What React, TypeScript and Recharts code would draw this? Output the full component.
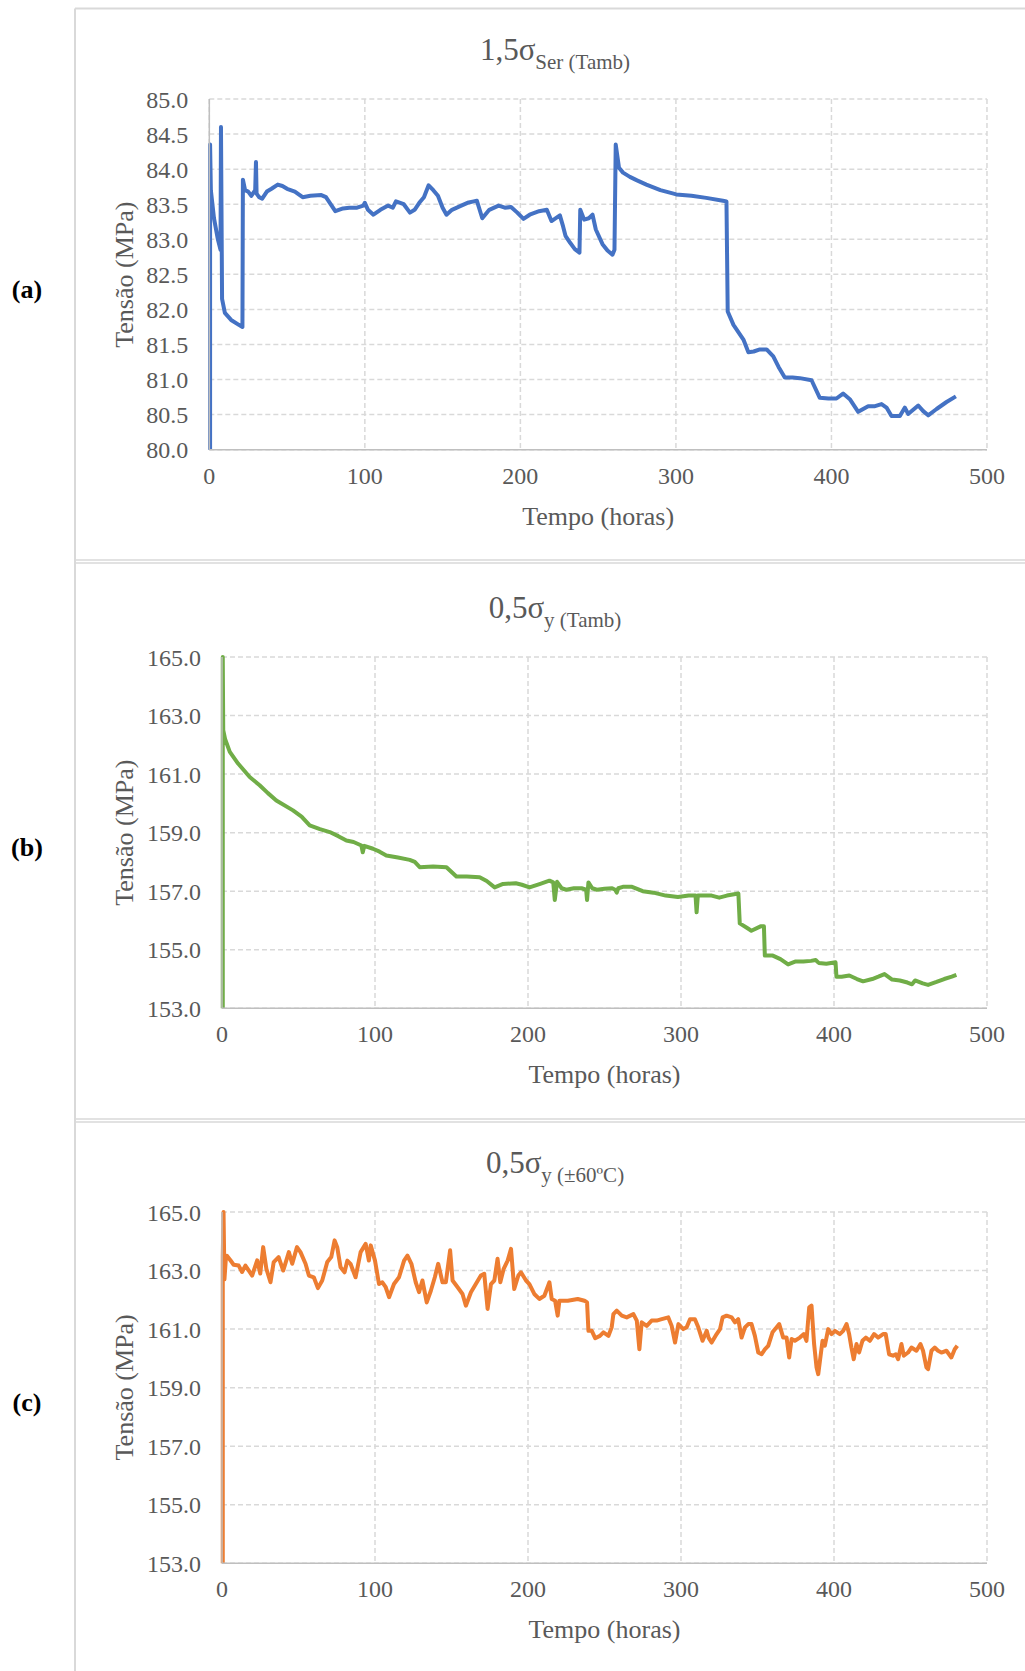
import React from 'react';
import { LineChart, Line, XAxis, YAxis, CartesianGrid } from 'recharts';

// [hours, MPa]
const serieA: [number, number][] = [
  [0.5, 80.0], [0.5, 84.35], [1, 83.7], [3, 83.3], [5.5, 83.0], [7.2, 82.85], [7.5, 84.6], [8.2, 82.15],
  [10, 81.95], [14, 81.85], [19, 81.78], [21.3, 81.75], [21.6, 83.85], [23, 83.7], [25, 83.68],
  [27, 83.62], [29.5, 83.7], [30, 84.1], [30.4, 83.65], [32, 83.6], [34, 83.58], [37, 83.68],
  [40, 83.72], [44, 83.78], [47, 83.76], [50, 83.72], [55, 83.68], [60, 83.6], [65, 83.62],
  [72, 83.63], [75, 83.6], [78, 83.5], [81, 83.4], [86, 83.44], [90, 83.45], [95, 83.45],
  [99, 83.48], [100, 83.52], [102, 83.42], [105.5, 83.35], [110, 83.42], [115, 83.48],
  [118, 83.45], [120, 83.54], [125, 83.5], [129, 83.38], [132, 83.42], [135, 83.52], [138, 83.6],
  [141, 83.77], [144, 83.7], [147, 83.62], [150, 83.45], [152.5, 83.35], [156, 83.42],
  [162, 83.48], [166, 83.52], [170, 83.54], [172, 83.55], [175.5, 83.3], [180, 83.42],
  [186, 83.48], [190, 83.45], [194, 83.46], [198, 83.38], [202, 83.29], [206, 83.35],
  [212, 83.4], [217, 83.42], [220, 83.26], [225.4, 83.34], [227.5, 83.18], [229, 83.05],
  [232, 82.95], [235, 82.86], [238, 82.81], [238.5, 83.42], [241, 83.28], [244, 83.3],
  [246.4, 83.35], [248.5, 83.14], [252.8, 82.93], [256, 82.84], [259.2, 82.78], [260.5, 82.85],
  [261.3, 84.35], [263.4, 84.02], [266, 83.95], [270.4, 83.89], [275, 83.84], [281, 83.78],
  [290, 83.7], [300.3, 83.64], [310, 83.62], [319.5, 83.59], [330.2, 83.55], [332.5, 83.54],
  [333.3, 81.97], [337, 81.78], [343.4, 81.57], [346.6, 81.39], [350, 81.4], [354, 81.43],
  [358.3, 81.43], [362.6, 81.33], [366, 81.18], [370, 81.03], [375, 81.03], [379.7, 81.02],
  [387.2, 80.99], [392.5, 80.74], [398, 80.73], [403.2, 80.73], [407.5, 80.8], [411.8, 80.72],
  [417.2, 80.54], [423.6, 80.62], [428, 80.62], [432.2, 80.65], [435.4, 80.6], [438.6, 80.48],
  [444, 80.48], [447.2, 80.6], [449.3, 80.51], [455.8, 80.63], [459, 80.55], [462.2, 80.49],
  [467.6, 80.58], [474, 80.68], [480, 80.76],
];

const serieB: [number, number][] = [
  [0.5, 153.0], [0.5, 165.0], [0.8, 162.5], [2, 162.2], [5.1, 161.76], [10.5, 161.36], [18.1, 160.9],
  [24.6, 160.62], [30, 160.35], [35.5, 160.1], [46.4, 159.76], [52, 159.55], [57.3, 159.25],
  [64, 159.12], [70.4, 159.02], [76, 158.88], [81.3, 158.73], [86, 158.68], [91.1, 158.56],
  [92, 158.33], [93, 158.55], [98.7, 158.45], [103, 158.35], [107.4, 158.22], [115, 158.15],
  [122.7, 158.07], [126, 158.0], [129.2, 157.82], [138, 157.84], [146.7, 157.82],
  [153.2, 157.5], [160, 157.5], [168.4, 157.48], [173, 157.35], [178.2, 157.13],
  [183.7, 157.25], [192, 157.27], [196, 157.22], [201, 157.13], [208, 157.25], [214, 157.36],
  [216.5, 157.3], [217.5, 156.7], [219, 157.32], [222, 157.1], [225, 157.05], [230, 157.1],
  [235, 157.1], [238, 157.05], [238.6, 156.7], [239.5, 157.3], [242, 157.1], [245, 157.05],
  [250, 157.08], [255, 157.1], [257, 157.05], [258, 156.95], [259, 157.1], [262, 157.15],
  [268, 157.15], [275, 157.0], [282, 156.95], [290, 156.85], [298, 156.8], [305, 156.85],
  [309.5, 156.85], [310.2, 156.28], [311, 156.85], [316, 156.85], [320, 156.85],
  [325, 156.78], [330, 156.85], [337.5, 156.92], [338.4, 155.9], [343, 155.75], [346, 155.65],
  [352, 155.8], [354.2, 155.8], [354.8, 154.8], [360, 154.8], [365, 154.68], [370, 154.5],
  [375, 154.6], [380, 154.6], [385, 154.62], [388, 154.65], [390, 154.55], [395, 154.52],
  [401, 154.57], [401.6, 154.08], [405, 154.08], [410, 154.12], [415, 154.0], [419, 153.92],
  [425, 154.0], [429, 154.08], [433, 154.17], [438, 153.98], [443, 153.95], [448, 153.88],
  [451, 153.82], [453, 153.95], [458, 153.85], [461.5, 153.8], [467, 153.9], [472, 154.0],
  [477, 154.08], [480, 154.14],
];

const serieC: [number, number][] = [
  [0.5, 153.0], [0.5, 163.5], [1, 165.0], [1.6, 162.7], [2.5, 163.4], [3.3, 163.5], [5.5, 163.35],
  [7.6, 163.2], [10.9, 163.17], [13.1, 162.95], [15.3, 163.17], [19.7, 162.83], [23, 163.35],
  [25, 162.9], [26.9, 163.8], [29, 163.06], [31.7, 162.6], [33.8, 163.29], [37, 163.46],
  [40, 163.0], [43.7, 163.63], [45.9, 163.23], [49, 163.8], [51.3, 163.63], [54.6, 163.23],
  [56.8, 162.83], [60, 162.77], [62.7, 162.4], [65.5, 162.66], [68.8, 163.29], [71.4, 163.46],
  [73.6, 164.03], [75.3, 163.8], [77.5, 163.11], [80.1, 162.94], [81.9, 163.34], [84, 163.23],
  [87.3, 162.77], [90.6, 163.63], [93.9, 163.91], [96, 163.34], [97.2, 163.86], [100, 163.34],
  [102.6, 162.54], [104.8, 162.6], [107, 162.43], [109.2, 162.09], [112.4, 162.54],
  [115.7, 162.77], [119, 163.34], [121.2, 163.51], [123.8, 163.23], [126.6, 162.6],
  [128.8, 162.26], [131, 162.66], [133.8, 161.91], [136.5, 162.31], [139.1, 162.77],
  [141.3, 163.23], [144.1, 162.6], [146.3, 162.6], [149.1, 163.69], [150.7, 162.66],
  [154, 162.43], [157.2, 162.2], [159.4, 161.8], [162.7, 162.26], [165.9, 162.54],
  [169.2, 162.83], [171.4, 162.89], [173.6, 161.69], [175.8, 162.54], [178, 162.66],
  [180.1, 163.4], [181.9, 162.6], [184.1, 163.06], [186.7, 163.34], [188.9, 163.74],
  [191, 162.37], [193.7, 162.83], [195.4, 162.94], [198.7, 162.66], [200.9, 162.54],
  [204.1, 162.2], [207.4, 162.03], [210.7, 162.14], [214, 162.6], [215.5, 162.03],
  [217.7, 161.97], [219.4, 161.46], [220.5, 161.97], [226, 161.97], [232.5, 162.03],
  [236.9, 161.97], [238.6, 161.91], [239.5, 160.94], [241.7, 160.94], [243.9, 160.69],
  [247, 160.77], [249.3, 160.89], [252.6, 160.77], [254.7, 161.06], [255.8, 161.51],
  [258, 161.63], [261.3, 161.46], [264.5, 161.4], [268.9, 161.51], [271.1, 161.29],
  [272.8, 160.31], [274.3, 161.23], [277.6, 161.11], [280.8, 161.29], [284.1, 161.29],
  [287.4, 161.34], [291.7, 161.4], [293.9, 161.11], [296.1, 160.54], [298.3, 161.17],
  [301.5, 161.0], [303.7, 161.06], [305.9, 161.34], [309.1, 161.34], [311.3, 161.06],
  [314.1, 160.6], [316.8, 160.94], [318, 160.71], [320, 160.54], [323.3, 160.83],
  [325.5, 161.0], [327.2, 161.4], [329.8, 161.46], [333.1, 161.4], [335.3, 161.23],
  [337.4, 161.34], [339.6, 160.71], [341.8, 161.06], [344, 161.17], [346.1, 161.17],
  [348.3, 160.77], [350.5, 160.2], [352.7, 160.14], [354.8, 160.31], [357, 160.43],
  [359.8, 160.89], [362.5, 161.06], [364.2, 161.17], [366.8, 160.71], [369, 160.71],
  [370.7, 160.03], [372.3, 160.66], [374.4, 160.6], [377.7, 160.71], [380.3, 160.83],
  [382, 160.6], [383.8, 161.74], [385.3, 161.8], [387, 160.49], [388.6, 159.69],
  [389.7, 159.46], [390.8, 159.91], [392.5, 160.6], [394, 160.43], [396.2, 161.0],
  [398.4, 160.83], [400.6, 160.94], [403.8, 160.83], [406, 160.94], [408.2, 161.17],
  [409.9, 160.83], [411.4, 160.37], [412.9, 159.97], [414.7, 160.49], [416.4, 160.2],
  [418.6, 160.6], [420.8, 160.71], [423.4, 160.6], [426.2, 160.83], [428.8, 160.71],
  [432.1, 160.83], [433.8, 160.83], [436, 160.14], [438.6, 160.09], [440.4, 160.14],
  [441.9, 159.97], [444.1, 160.49], [445.6, 160.09], [448.4, 160.2], [450.6, 160.37],
  [453.9, 160.26], [456.5, 160.49], [458.2, 160.26], [460.4, 159.69], [461.5, 159.63],
  [463.7, 160.26], [465.8, 160.37], [468, 160.26], [470.2, 160.2], [473.5, 160.26],
  [476.7, 160.03], [478.9, 160.31], [480.6, 160.43],
];

const xTicks = [0, 100, 200, 300, 400, 500];
const yTicksA = [80, 80.5, 81, 81.5, 82, 82.5, 83, 83.5, 84, 84.5, 85];
const yTicksBC = [153, 155, 157, 159, 161, 163, 165];

const FONT = "'Liberation Serif', 'Times New Roman', serif";
const GREY = '#595959';
const PAGE_W = 1025;
const PLOT_R = 987;

interface PanelProps {
  serie: [number, number][];
  color: string;
  yTicks: number[];
  left: number;
  top: number;
  bottom: number;
}

const Panel = ({ serie, color, yTicks, left, top, bottom }: PanelProps) => {
  const data = serie.map(([t, v]) => ({ t, v }));
  const h = bottom - top + 80;
  return (
    <div style={{ position: 'absolute', left: 0, top: top - 20, width: PAGE_W, height: h }}>
      <LineChart
        width={PAGE_W}
        height={h}
        data={data}
        margin={{ top: 20, right: PAGE_W - PLOT_R, bottom: 20, left: left - 100 }}
      >
        <CartesianGrid stroke="#d9d9d9" strokeDasharray="5 3" strokeWidth={1.5} />
        <XAxis
          dataKey="t"
          type="number"
          domain={[0, 500]}
          ticks={xTicks}
          interval={0}
          height={40}
          tickLine={false}
          tickSize={6}
          tickMargin={11}
          axisLine={{ stroke: '#bfbfbf', strokeWidth: 1.5 }}
          tick={{ fontSize: 24, fill: GREY, fontFamily: FONT }}
        />
        <YAxis
          type="number"
          domain={[yTicks[0], yTicks[yTicks.length - 1]]}
          ticks={yTicks}
          interval={0}
          width={100}
          tickLine={false}
          tickSize={6}
          tickMargin={15}
          axisLine={{ stroke: '#bfbfbf', strokeWidth: 1.5 }}
          tickFormatter={(v: number) => v.toFixed(1)}
          tick={{ fontSize: 24, fill: GREY, fontFamily: FONT }}
        />
        <Line
          type="linear"
          dataKey="v"
          stroke={color}
          strokeWidth={4}
          strokeLinejoin="round"
          dot={false}
          isAnimationActive={false}
        />
      </LineChart>
    </div>
  );
};

const panels = [
  { tag: '(a)', main: '1,5σ', sub: 'Ser (Tamb)', serie: serieA, color: '#4472C4', yTicks: yTicksA, left: 209.3, top: 99.3, bottom: 450 },
  { tag: '(b)', main: '0,5σ', sub: 'y (Tamb)', serie: serieB, color: '#70AD47', yTicks: yTicksBC, left: 222, top: 657, bottom: 1008.3 },
  { tag: '(c)', main: '0,5σ', sub: 'y (±60ºC)', serie: serieC, color: '#ED7D31', yTicks: yTicksBC, left: 222, top: 1211.7, bottom: 1563 },
];

export default function App() {
  return (
    <div style={{ position: 'absolute', left: 0, top: 0, width: PAGE_W, height: 1671, background: '#fff' }}>
      {panels.map((p) => (
        <Panel key={p.tag} serie={p.serie} color={p.color} yTicks={p.yTicks} left={p.left} top={p.top} bottom={p.bottom} />
      ))}
      <svg width={PAGE_W} height={1671} style={{ position: 'absolute', left: 0, top: 0, pointerEvents: 'none' }}>
        {/* panel frames */}
        <line x1={75} y1={8.5} x2={75} y2={1671} stroke="#d9d9d9" strokeWidth={2} />
        <line x1={75} y1={8.5} x2={PAGE_W} y2={8.5} stroke="#d9d9d9" strokeWidth={2} />
        <line x1={75} y1={560} x2={PAGE_W} y2={560} stroke="#d9d9d9" strokeWidth={1.5} />
        <line x1={75} y1={563} x2={PAGE_W} y2={563} stroke="#d9d9d9" strokeWidth={1.5} />
        <line x1={75} y1={1119} x2={PAGE_W} y2={1119} stroke="#d9d9d9" strokeWidth={1.5} />
        <line x1={75} y1={1122} x2={PAGE_W} y2={1122} stroke="#d9d9d9" strokeWidth={1.5} />
        {panels.map((p) => {
          const midY = (p.top + p.bottom) / 2;
          const midX = (p.left + PLOT_R) / 2;
          return (
            <g key={p.tag} fontFamily={FONT}>
              <text x={555} y={p.top - 39} textAnchor="middle" fill={GREY}>
                <tspan fontSize={31}>{p.main}</tspan>
                <tspan fontSize={21} dy={9}>{p.sub}</tspan>
              </text>
              <text x={27} y={midY + 15} textAnchor="middle" dominantBaseline="central" fontSize={26} fontWeight="bold" fill="#000">
                {p.tag}
              </text>
              <text
                x={125}
                y={midY}
                textAnchor="middle"
                dominantBaseline="central"
                fontSize={26}
                fill={GREY}
                transform={`rotate(-90 125 ${midY})`}
              >
                Tensão (MPa)
              </text>
              <text x={midX} y={p.bottom + 66} textAnchor="middle" dominantBaseline="central" fontSize={26} fill={GREY}>
                Tempo (horas)
              </text>
            </g>
          );
        })}
      </svg>
    </div>
  );
}
